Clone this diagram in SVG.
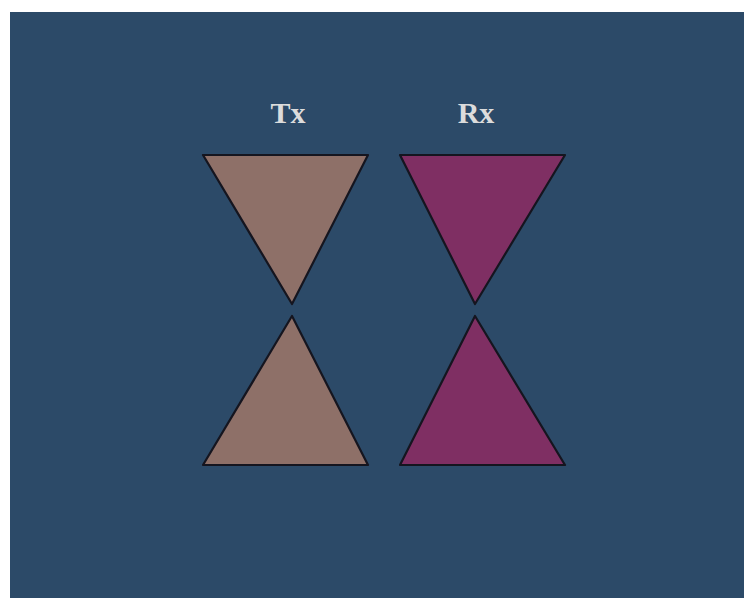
<svg xmlns="http://www.w3.org/2000/svg" width="744" height="598" viewBox="0 0 744 598">
<style>
.lbl{font-family:"Liberation Serif","Times New Roman",serif;font-weight:bold;font-size:30px;fill:#dcdcdc;text-anchor:middle}
.tx{fill:#8e7068;stroke:#15151f;stroke-width:2.2;stroke-linejoin:round}
.rx{fill:#7f2f63;stroke:#15151f;stroke-width:2.2;stroke-linejoin:round}
</style>
<rect x="0" y="0" width="744" height="598" fill="#ffffff"/>
<rect x="10" y="12" width="734" height="586" fill="#2c4a68"/>
<g id="tx">
<text class="lbl" x="288" y="123">Tx</text>
<polygon class="tx" points="203,155 368,155 292,304"/>
<polygon class="tx" points="292,316 368,465 203,465"/>
</g>
<g id="rx">
<text class="lbl" x="476" y="123">Rx</text>
<polygon class="rx" points="400,155 565,155 475,304"/>
<polygon class="rx" points="475,316 565,465 400,465"/>
</g>
</svg>
